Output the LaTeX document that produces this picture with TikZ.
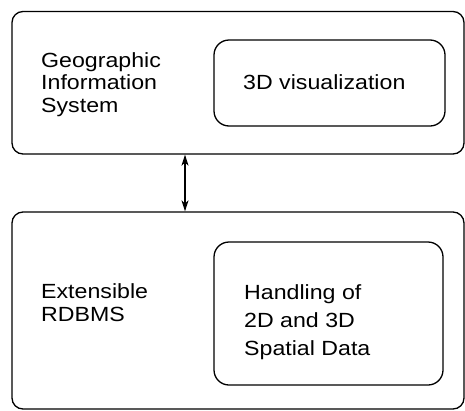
\documentclass[tikz,border=0pt]{standalone}
\usepackage{fontspec}
\setmainfont[FakeStretch=1.13]{Liberation Sans}
\usetikzlibrary{arrows.meta}
\begin{document}
\begin{tikzpicture}[x=1pt,y=-1pt,
  box/.style={draw=black,line width=1.3pt,rounded corners=11pt,inner sep=0pt},
  inbox/.style={draw=black,line width=1.3pt,rounded corners=15pt,inner sep=0pt},
  lbl/.style={anchor=base west,inner sep=0pt,align=left},
  link/.style={line width=1.4pt,{Stealth[length=11pt,width=7pt,inset=3pt]}-{Stealth[length=11pt,width=7pt,inset=3pt]}}
]
\useasboundingbox (0,0) rectangle (465,410);
\node[box,minimum width=452pt,minimum height=142.5pt] (gis) at (238,82.75) {};
\node[inbox,minimum width=231pt,minimum height=86pt] (vis) at (329.5,83) {};
\node[box,minimum width=452pt,minimum height=197pt] (rdb) at (238,310.5) {};
\node[inbox,minimum width=229pt,minimum height=143pt] (spd) at (328.5,313.5) {};
\node[lbl,font={\fontsize{20.5}{22.7}\selectfont}] (gist) at (41,112.4) {Geographic\\Information\\System};
\node[lbl,font={\fontsize{20.5}{22.7}\selectfont}] (vist) at (243,89.3) {3D visualization};
\node[lbl,font={\fontsize{20.5}{22.7}\selectfont}] (rdbt) at (41,321.2) {Extensible\\RDBMS};
\node[lbl,font={\fontsize{20.5}{28.2}\selectfont}] (spdt) at (244,355.4) {Handling of\\2D and 3D\\Spatial Data};
\coordinate (ax) at (185,0);
\draw[link] (gis.south -| ax) -- (rdb.north -| ax);
\end{tikzpicture}
\end{document}
